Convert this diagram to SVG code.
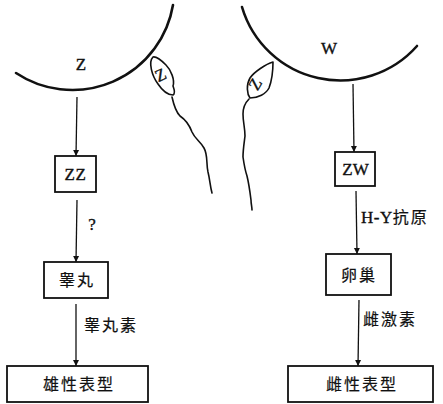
<svg xmlns="http://www.w3.org/2000/svg" width="443" height="404" viewBox="0 0 443 404">
  <style>
    .lat { font-family: "Liberation Serif", "DejaVu Serif", serif; font-size: 17px; fill: #111; stroke: #111; stroke-width: 0.35; }
    .cjk { font-family: "Noto Sans CJK SC", "Noto Sans CJK JP", sans-serif; font-size: 16px; letter-spacing: 2px; fill: #111; stroke: #111; stroke-width: 0.2; }
    .box { fill: #fff; stroke: #111; stroke-width: 1.8; }
    .cell { fill: none; stroke: #111; stroke-width: 2.6; stroke-linecap: round; }
    .sperm { fill: none; stroke: #111; stroke-width: 1.6; stroke-linecap: round; stroke-linejoin: round; }
    .edge { stroke: #111; stroke-width: 1.3; fill: none; marker-end: url(#head); }
  </style>
  <defs>
    <marker id="head" viewBox="0 0 6 12" refX="6" refY="6" markerWidth="6" markerHeight="12" markerUnits="userSpaceOnUse" orient="auto">
      <path d="M0,3 L6,6 L0,9 Z" fill="#111"/>
    </marker>
  </defs>
  <rect width="443" height="404" fill="#fff"/>

  <!-- Z egg (left) with Z sperm -->
  <g id="egg-z">
    <path class="cell" d="M16,73 A102,102 0 0 0 173,5"/>
    <text class="lat" x="81" y="70" text-anchor="middle" font-size="15">Z</text>
  </g>
  <g id="sperm-left">
    <path class="sperm" d="M153,57 C148,62 152,76 158,84 C162,90 168,95 173,95 C176,93 174,89 173,86 C175,80 171,70 166,65 C162,61 157,56 153,57 Z"/>
    <path class="sperm" d="M172,97 C174,106 176,112 180,116 C186,120 189,124 192,132 C195,139 200,141 204,148 C208,155 206,163 208,172 C210,180 210,186 212,193"/>
    <text class="lat" x="0" y="0" font-size="12" text-anchor="middle" transform="translate(163,80) rotate(-25)">Z</text>
  </g>

  <!-- W egg (right) with Z sperm -->
  <g id="egg-w">
    <path class="cell" d="M242,7 A102.5,102.5 0 0 0 417,46"/>
    <text class="lat" x="329" y="54" text-anchor="middle" font-size="16">W</text>
  </g>
  <g id="sperm-right">
    <path class="sperm" d="M273,62 C266,64 254,72 250,78 C246,85 247,94 250,98 C258,98 266,94 269,88 C272,80 273,70 273,62 Z"/>
    <path class="sperm" d="M249,99 C245,103 243,108 243,114 C243,122 245,128 245,136 C244,144 243,150 243,157 C244,164 245,170 247,176 C249,184 250,192 251,200 C251,204 252,207 252,210"/>
    <text class="lat" x="0" y="0" font-size="12" text-anchor="middle" transform="translate(260,87) rotate(-60)">Z</text>
  </g>

  <!-- connectors -->
  <g id="connectors">
    <line class="edge" x1="77" y1="97" x2="76" y2="156"/>
    <line class="edge" x1="77" y1="200" x2="76" y2="262"/>
    <line class="edge" x1="76" y1="304" x2="76" y2="366"/>
    <line class="edge" x1="353" y1="84" x2="354" y2="152"/>
    <line class="edge" x1="356" y1="191" x2="357" y2="254"/>
    <line class="edge" x1="359" y1="300" x2="358" y2="366"/>
    <text class="lat" x="92" y="230" text-anchor="middle" font-size="15">?</text>
    <text class="cjk" x="84" y="331">睾丸素</text>
    <text class="lat" x="361" y="223" font-size="15" letter-spacing="0.5">H-Y<tspan class="cjk" font-size="16" letter-spacing="0">抗原</tspan></text>
    <text class="cjk" x="363" y="325">雌激素</text>
  </g>

  <!-- left chain -->
  <g id="zz">
    <rect class="box" x="55" y="156" width="41" height="36"/>
    <text class="lat" x="75.5" y="180" text-anchor="middle" letter-spacing="0.5">ZZ</text>
  </g>
  <g id="testis">
    <rect class="box" x="44" y="262" width="64" height="36"/>
    <text class="cjk" x="77" y="286" text-anchor="middle">睾丸</text>
  </g>
  <g id="male">
    <rect class="box" x="7" y="366" width="141" height="36"/>
    <text class="cjk" x="79" y="390" text-anchor="middle">雄性表型</text>
  </g>

  <!-- right chain -->
  <g id="zw">
    <rect class="box" x="335" y="152" width="40" height="34"/>
    <text class="lat" x="355.5" y="175" text-anchor="middle">ZW</text>
  </g>
  <g id="ovary">
    <rect class="box" x="326" y="254" width="65" height="41"/>
    <text class="cjk" x="359" y="281" text-anchor="middle">卵巢</text>
  </g>
  <g id="female">
    <rect class="box" x="288" y="366" width="145" height="36"/>
    <text class="cjk" x="362" y="390" text-anchor="middle">雌性表型</text>
  </g>
</svg>
